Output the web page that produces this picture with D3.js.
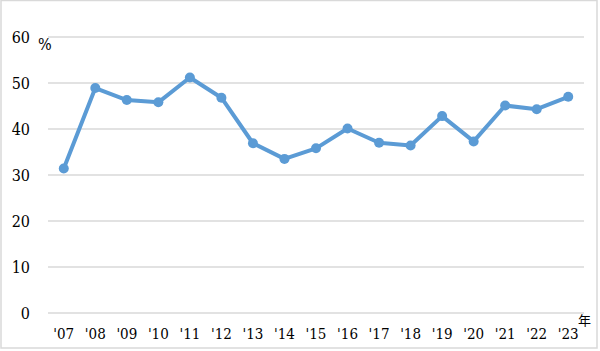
<!DOCTYPE html>
<html>
<head>
<meta charset="utf-8">
<script src="https://cdn.jsdelivr.net/npm/d3@7"></script>
<style>
  body { margin: 0; background: #fff; }
</style>
</head>
<body>
<div id="chart"></div>
<script>
// Year labels and percentage values
const years = ["'07", "'08", "'09", "'10", "'11", "'12", "'13", "'14", "'15",
               "'16", "'17", "'18", "'19", "'20", "'21", "'22", "'23"];
const values = [31.4, 48.9, 46.3, 45.8, 51.2, 46.8, 36.9, 33.5, 35.8,
                40.1, 37.0, 36.4, 42.8, 37.3, 45.1, 44.3, 47.0];
const yTicks = [0, 10, 20, 30, 40, 50, 60];

const w = 600;
const h = 351;
const margin = { top: 37, right: 16, bottom: 38, left: 48 };
const serif = "'DejaVu Serif Condensed', 'DejaVu Serif'";

const svg = d3.select("#chart")
    .append("svg")
    .attr("width", w)
    .attr("height", h);

// Outer frame
svg.append("rect")
    .attr("x", 1)
    .attr("y", 0.5)
    .attr("width", 596)
    .attr("height", 347.5)
    .attr("fill", "#fff")
    .attr("stroke", "#d9d9d9")
    .attr("stroke-width", 1.5);

// Scales
const x = d3.scaleBand()
    .domain(years)
    .range([margin.left, w - margin.right]);

const y = d3.scaleLinear()
    .domain([0, 60])
    .range([h - margin.bottom, margin.top]);

// Gridlines
svg.append("g")
    .selectAll("line")
    .data(yTicks)
    .enter()
    .append("line")
    .attr("x1", margin.left)
    .attr("x2", w - margin.right)
    .attr("y1", d => y(d))
    .attr("y2", d => y(d))
    .attr("stroke", "#d9d9d9")
    .attr("stroke-width", 1.5);

// Y axis labels
const yAxis = svg.append("g")
    .attr("transform", `translate(${margin.left - 18},0)`)
    .call(d3.axisLeft(y).tickValues(yTicks).tickSize(0).tickPadding(0))
    .attr("font-family", null)
    .attr("font-size", null);
yAxis.select(".domain").remove();
yAxis.selectAll("text")
    .style("font-family", serif)
    .style("font-size", "16px")
    .attr("fill", "#000");

// X axis labels
const xAxis = svg.append("g")
    .attr("transform", `translate(0,${h - margin.bottom})`)
    .call(d3.axisBottom(x).tickSize(0).tickPadding(15))
    .attr("font-family", null)
    .attr("font-size", null);
xAxis.select(".domain").remove();
xAxis.selectAll("text")
    .style("font-family", serif)
    .style("font-size", "15px")
    .attr("fill", "#000");

// Unit labels
svg.append("text")
    .attr("x", 38)
    .attr("y", 50)
    .style("font-family", serif)
    .style("font-size", "16px")
    .text("%");

svg.append("text")
    .attr("x", 578)
    .attr("y", 325)
    .style("font-family", "'Noto Sans CJK JP', sans-serif")
    .style("font-size", "13px")
    .text("年");

// Line
const line = d3.line()
    .x((d, i) => x(years[i]) + x.bandwidth() / 2)
    .y(d => y(d));

svg.append("path")
    .datum(values)
    .attr("fill", "none")
    .attr("stroke", "#5b9bd5")
    .attr("stroke-width", 4)
    .attr("stroke-linejoin", "round")
    .attr("d", line);

// Markers
svg.selectAll("circle.pt")
    .data(values)
    .enter()
    .append("circle")
    .attr("class", "pt")
    .attr("cx", (d, i) => x(years[i]) + x.bandwidth() / 2)
    .attr("cy", d => y(d))
    .attr("r", 5)
    .attr("fill", "#5b9bd5");
</script>
</body>
</html>
